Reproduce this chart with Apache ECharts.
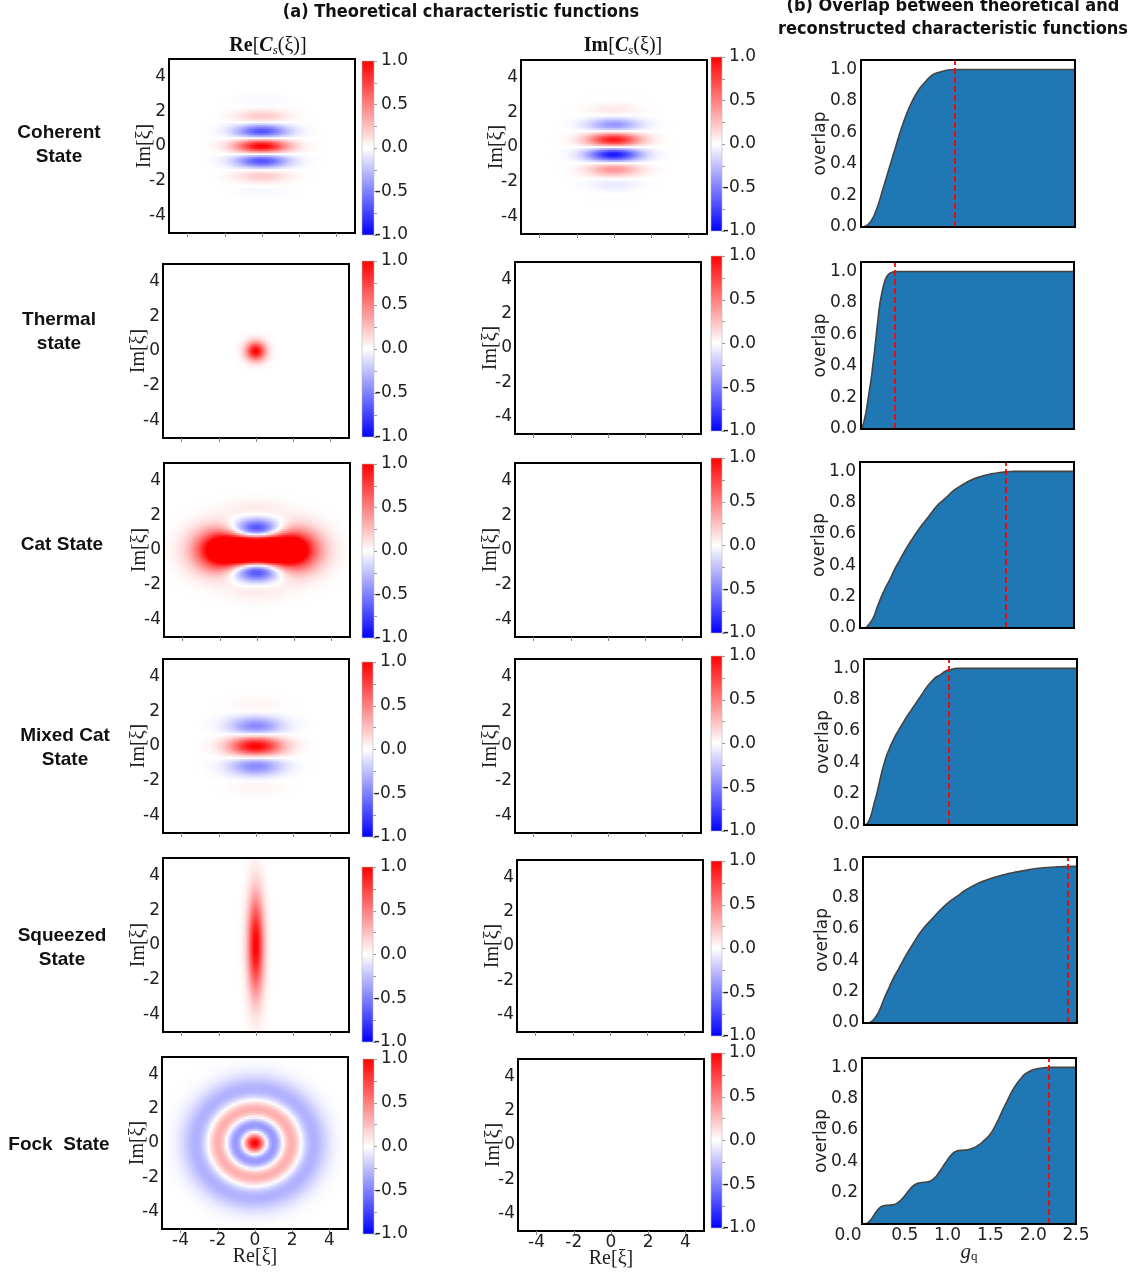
<!DOCTYPE html>
<html><head><meta charset="utf-8">
<script src="https://cdn.jsdelivr.net/npm/echarts@6/dist/echarts.min.js"></script>
<style>html,body{margin:0;padding:0;background:#fff}#c{width:1137px;height:1274px}</style>
</head><body><div id="c"></div>
<script>
// ================= DATA =================
const stateNames = ['Coherent\nState', 'Thermal\nstate', 'Cat State', 'Mixed Cat\nState', 'Squeezed\nState', 'Fock  State'];
const axisTicks = [-4, -2, 0, 2, 4];
const colorbarTicks = [-1.0, -0.5, 0.0, 0.5, 1.0];
const overlapTicks = [0.0, 0.2, 0.4, 0.6, 0.8, 1.0];
const gqTicks = [0.0, 0.5, 1.0, 1.5, 2.0, 2.5];
const thresholds = [1.09, 0.40, 1.70, 1.00, 2.39, 2.18];   // red dashed g_q per state

// characteristic-function parameters
const coherentK = [3.4];                    // stripe wavenumber along Im[xi]
const thermalRate = [3.5];                  // Gaussian rate of the thermal peak
const catParams = [2.37, 0.64, 1.65, 2.17, 1.1, 0.85]; // amplitude, side weight, side offset, stripe wavenumber, side widths (Re, Im)
const mixedCatK = [2.33];                   // stripe wavenumber
const squeezedSigma = [0.3, 2.0];           // widths along Re, Im
const fockN = [3];                          // photon number

// overlap curves [g_q, overlap]
const overlapCoherent = [[0,0],[0.05,0.005],[0.1,0.025],[0.15,0.07],[0.2,0.14],[0.25,0.23],[0.3,0.32],[0.35,0.41],[0.4,0.5],[0.45,0.59],[0.5,0.67],[0.55,0.74],[0.6,0.8],[0.65,0.85],[0.7,0.89],[0.75,0.92],[0.8,0.95],[0.85,0.97],[0.9,0.98],[1.0,0.995],[1.1,1.0],[1.5,1.0],[2.0,1.0],[2.5,1.0]];
const overlapThermal = [[0,0],[0.02,0.02],[0.04,0.06],[0.06,0.11],[0.08,0.18],[0.1,0.25],[0.12,0.32],[0.14,0.41],[0.16,0.5],[0.18,0.6],[0.2,0.7],[0.22,0.79],[0.24,0.85],[0.26,0.9],[0.28,0.94],[0.3,0.965],[0.33,0.985],[0.37,0.997],[0.42,1.0],[1.0,1.0],[2.5,1.0]];
const overlapCat = [[0,0],[0.05,0.0],[0.1,0.02],[0.15,0.06],[0.2,0.13],[0.25,0.2],[0.3,0.26],[0.35,0.31],[0.4,0.37],[0.45,0.42],[0.5,0.47],[0.6,0.56],[0.7,0.64],[0.8,0.71],[0.9,0.78],[1.0,0.83],[1.1,0.88],[1.2,0.915],[1.3,0.945],[1.4,0.965],[1.5,0.98],[1.6,0.99],[1.7,0.997],[1.8,1.0],[2.5,1.0]];
const overlapMixedCat = [[0,0],[0.03,0.005],[0.06,0.03],[0.09,0.075],[0.12,0.14],[0.15,0.2],[0.18,0.27],[0.21,0.34],[0.24,0.4],[0.27,0.45],[0.3,0.49],[0.35,0.55],[0.4,0.6],[0.45,0.645],[0.5,0.69],[0.55,0.73],[0.6,0.77],[0.65,0.81],[0.7,0.85],[0.75,0.89],[0.8,0.92],[0.85,0.945],[0.9,0.96],[0.95,0.98],[1.0,0.99],[1.1,1.0],[2.5,1.0]];
const overlapSqueezed = [[0,0],[0.05,0.0],[0.1,0.01],[0.15,0.04],[0.2,0.09],[0.25,0.16],[0.3,0.22],[0.35,0.28],[0.4,0.33],[0.45,0.38],[0.5,0.43],[0.6,0.52],[0.7,0.6],[0.8,0.66],[0.9,0.72],[1.0,0.77],[1.1,0.81],[1.2,0.85],[1.3,0.88],[1.4,0.905],[1.5,0.925],[1.6,0.94],[1.7,0.955],[1.8,0.965],[1.9,0.975],[2.0,0.985],[2.2,0.995],[2.5,1.0]];
const overlapFock = [[0,0],[0.05,0.003],[0.1,0.025],[0.15,0.065],[0.2,0.1],[0.25,0.117],[0.3,0.12],[0.35,0.122],[0.4,0.13],[0.45,0.15],[0.5,0.18],[0.55,0.215],[0.6,0.245],[0.65,0.26],[0.7,0.265],[0.75,0.268],[0.8,0.275],[0.85,0.295],[0.9,0.33],[0.95,0.37],[1.0,0.41],[1.05,0.445],[1.1,0.465],[1.15,0.47],[1.2,0.472],[1.25,0.476],[1.3,0.485],[1.35,0.5],[1.4,0.52],[1.45,0.545],[1.5,0.575],[1.55,0.62],[1.6,0.675],[1.65,0.735],[1.7,0.79],[1.75,0.845],[1.8,0.89],[1.85,0.925],[1.9,0.955],[1.95,0.972],[2.0,0.985],[2.1,0.996],[2.2,1.0],[2.5,1.0]];
const overlapSeries = [overlapCoherent, overlapThermal, overlapCat, overlapMixedCat, overlapSqueezed, overlapFock];

// ================= LAYOUT =================
const reRects = [[169,59,186,174],[163,264,186,174],[164,463,186,174],[163,659,186,174],[163,858,186,174],[162,1057,186,172]];
const imRects = [[521,60,186,174],[515,262,186,172],[515,463,186,174],[515,659,186,174],[517,860,186,172],[518,1059,186,172]];
const reBars  = [[362,61,12,174],[362,261,12,176],[362,464,12,174],[362,662,11,175],[362,867,11,175],[363,1059,11,175]];
const imBars  = [[711,57,11,174],[711,256,11,175],[711,458,11,175],[711,656,11,175],[711,861,11,175],[711,1053,11,175]];
const ovRects = [[861,60,214,167],[861,262,213,167],[860,462,214,166],[864,659,213,166],[863,857,214,166],[862,1058,214,166]];
const rowLabelPos = [[59,145],[59,332],[62,545],[65,748],[62,948],[59,1145]];

const TICK_FONT = 'DejaVu Sans';
const SERIF = 'Liberation Serif';

// ================= FIELD EVALUATION =================
function laguerre(n, u) {
  if (n === 0) return 1;
  let l0 = 1, l1 = 1 - u;
  for (let k = 1; k < n; k++) {
    const l2 = ((2 * k + 1 - u) * l1 - k * l0) / (k + 1);
    l0 = l1; l1 = l2;
  }
  return l1;
}
function fieldValue(state, part, x, y) {
  const r2 = x * x + y * y;
  switch (state) {
    case 0: {
      const env = Math.exp(-r2 / 2);
      return part === 're' ? env * Math.cos(coherentK[0] * y) : env * Math.sin(coherentK[0] * y);
    }
    case 1: return part === 're' ? Math.exp(-thermalRate[0] * r2) : 0;
    case 2: {
      if (part !== 're') return 0;
      const [A, B, d, k, sx, sy] = catParams;
      const side = (cx) => Math.exp(-((x - cx) * (x - cx)) / (2 * sx * sx) - (y * y) / (2 * sy * sy));
      return A * (Math.exp(-r2 / 2) * Math.cos(k * y) + B * (side(d) + side(-d)));
    }
    case 3: return part === 're' ? Math.exp(-r2 / 2) * Math.cos(mixedCatK[0] * y) : 0;
    case 4: {
      if (part !== 're') return 0;
      const [sx, sy] = squeezedSigma;
      return Math.exp(-x * x / (2 * sx * sx) - y * y / (2 * sy * sy));
    }
    case 5: return part === 're' ? Math.exp(-r2 / 2) * laguerre(fockN[0], r2) : 0;
  }
  return 0;
}

// ================= OPTION BUILD =================
const option = { animation: false, grid: [], xAxis: [], yAxis: [], series: [], visualMap: [], graphic: [] };
const heatIdx = [];

function addGrid(rect, extra) {
  option.grid.push(Object.assign({ left: rect[0], top: rect[1], width: rect[2], height: rect[3], outerBoundsMode: 'none', containLabel: false }, extra || {}));
  return option.grid.length - 1;
}
function range(n) { const a = []; for (let i = 0; i < n; i++) a.push(i); return a; }

function addHeatmap(rect, state, part, isLast) {
  const g = addGrid(rect);
  const nx = Math.round(rect[2] / 2), ny = Math.round(rect[3] / 2);
  option.xAxis.push({ gridIndex: g, type: 'category', data: range(nx), show: false });
  const xi = option.xAxis.length - 1;
  option.yAxis.push({ gridIndex: g, type: 'category', data: range(ny), show: false });
  const yi = option.yAxis.length - 1;
  const data = [];
  for (let i = 0; i < nx; i++) {
    const x = -5 + (i + 0.5) * 10 / nx;
    for (let j = 0; j < ny; j++) {
      const y = -5 + (j + 0.5) * 10 / ny;
      let v = fieldValue(state, part, x, y);
      v = Math.max(-1, Math.min(1, v));
      data.push([i, j, v]);
    }
  }
  option.series.push({ type: 'heatmap', xAxisIndex: xi, yAxisIndex: yi, data: data, progressive: 0, silent: true, z: 2 });
  heatIdx.push(option.series.length - 1);

  // overlay frame with value axes
  const go = addGrid(rect, { show: true, borderColor: '#000', borderWidth: 2, backgroundColor: 'rgba(0,0,0,0)', z: 10 });
  option.xAxis.push({
    gridIndex: go, type: 'value', min: -5, max: 5, z: 10, position: 'bottom',
    axisLine: { show: false, onZero: false }, splitLine: { show: false },
    axisTick: { show: true, customValues: axisTicks, length: 4, lineStyle: { color: '#888', width: 1 } },
    axisLabel: { show: isLast, customValues: axisTicks, fontFamily: TICK_FONT, fontSize: 17, color: '#222', margin: 3 },
    name: isLast ? 'Re[ξ]' : '', nameLocation: 'middle', nameGap: 18, nameMoveOverlap: false,
    nameTextStyle: { fontFamily: SERIF, fontSize: 20, color: '#222' }
  });
  option.yAxis.push({
    gridIndex: go, type: 'value', min: -5, max: 5, z: 10, position: 'left',
    axisLine: { show: false, onZero: false }, splitLine: { show: false }, axisTick: { show: false },
    axisLabel: { customValues: axisTicks, fontFamily: TICK_FONT, fontSize: 17, color: '#222', margin: 3 },
    name: 'Im[ξ]', nameLocation: 'middle', nameGap: 14, nameMoveOverlap: false,
    nameTextStyle: { fontFamily: SERIF, fontSize: 20, color: '#222' }
  });
}

function addColorbar(rect) {
  const g = addGrid(rect);
  option.xAxis.push({ gridIndex: g, type: 'category', data: ['c'], show: false });
  const xi = option.xAxis.length - 1;
  option.yAxis.push({
    gridIndex: g, type: 'value', min: -1, max: 1, interval: 0.5, position: 'right',
    axisLine: { show: false, onZero: false }, splitLine: { show: false },
    axisTick: { show: true, length: 3, lineStyle: { color: '#999' } },
    minorTick: { show: true, splitNumber: 2, length: 3, lineStyle: { color: '#999' } },
    axisLabel: { customValues: colorbarTicks, formatter: v => v.toFixed(1), fontFamily: TICK_FONT, fontSize: 17, color: '#222', margin: 34, align: 'right' }
  });
  const yi = option.yAxis.length - 1;
  option.series.push({
    type: 'custom', xAxisIndex: xi, yAxisIndex: yi, silent: true,
    data: [[0, -1, 1]], encode: { x: 0, y: [1, 2] },
    renderItem: function (params, api) {
      const top = api.coord([0, api.value(2)]);
      const bot = api.coord([0, api.value(1)]);
      const w = api.size([1, 0])[0];
      return {
        type: 'rect',
        shape: { x: top[0] - w / 2, y: top[1], width: w, height: bot[1] - top[1] },
        style: {
          fill: new echarts.graphic.LinearGradient(0, 0, 0, 1, [
            { offset: 0, color: '#ff0000' }, { offset: 0.5, color: '#ffffff' }, { offset: 1, color: '#0000ff' }]),
          stroke: '#bbb', lineWidth: 0.6
        }
      };
    }
  });
}

function addOverlap(rect, row, isLast) {
  const g = addGrid(rect, { show: true, borderColor: '#000', borderWidth: 2, backgroundColor: 'rgba(0,0,0,0)', z: 10 });
  option.xAxis.push({
    gridIndex: g, type: 'value', min: 0, max: 2.5, interval: 0.5, z: 10, position: 'bottom',
    axisLine: { show: false, onZero: false }, axisTick: { show: false }, splitLine: { show: false },
    axisLabel: {
      show: isLast, customValues: gqTicks, fontFamily: TICK_FONT, fontSize: 17, color: '#222', margin: 3,
      formatter: v => (v === 0 ? '{l|0.0}' : v.toFixed(1)),
      rich: { l: { fontFamily: TICK_FONT, fontSize: 17, color: '#222', padding: [0, 28, 0, 0] } }
    },
    name: isLast ? '{g|g}{q|q}' : '', nameLocation: 'middle', nameGap: 18, nameMoveOverlap: false,
    nameTextStyle: {
      rich: {
        g: { fontFamily: SERIF, fontStyle: 'italic', fontSize: 21, color: '#222' },
        q: { fontFamily: SERIF, fontSize: 13, color: '#222', padding: [8, 0, 0, 0] }
      }
    }
  });
  const xi = option.xAxis.length - 1;
  option.yAxis.push({
    gridIndex: g, type: 'value', min: 0, max: 1.06, z: 10, position: 'left',
    axisLine: { show: false, onZero: false }, axisTick: { show: false }, splitLine: { show: false },
    axisLabel: { customValues: isLast ? overlapTicks.slice(1) : overlapTicks, formatter: v => v.toFixed(1), fontFamily: TICK_FONT, fontSize: 17, color: '#222', margin: 4 },
    name: 'overlap', nameLocation: 'middle', nameGap: 32, nameMoveOverlap: false,
    nameTextStyle: { fontFamily: TICK_FONT, fontSize: 17, color: '#222' }
  });
  const yi = option.yAxis.length - 1;
  option.series.push({
    type: 'line', xAxisIndex: xi, yAxisIndex: yi, data: overlapSeries[row],
    smooth: 0.5, showSymbol: false, silent: true, z: 2,
    lineStyle: { color: '#444', width: 1.6 },
    areaStyle: { color: '#1f77b4', opacity: 1 },
    markLine: {
      silent: true, symbol: 'none', label: { show: false },
      lineStyle: { color: '#ff0000', type: [6, 3], width: 1.8 },
      data: [{ xAxis: thresholds[row] }]
    }
  });
}

for (let r = 0; r < 6; r++) {
  const last = r === 5;
  addHeatmap(reRects[r], r, 're', last);
  addColorbar(reBars[r]);
  addHeatmap(imRects[r], r, 'im', last);
  addColorbar(imBars[r]);
  addOverlap(ovRects[r], r, last);
  option.graphic.push({
    type: 'text', x: rowLabelPos[r][0], y: rowLabelPos[r][1], silent: true,
    style: { text: stateNames[r], fontFamily: 'Liberation Sans', fontWeight: 'bold', fontSize: 19, lineHeight: 24, fill: '#111', align: 'center', verticalAlign: 'middle' }
  });
}

option.visualMap.push({
  type: 'continuous', show: false, min: -1, max: 1, dimension: 2, seriesIndex: heatIdx,
  inRange: { color: ['#0000ff', '#ffffff', '#ff0000'] }
});

const headFont = '"Liberation Sans Narrow", "DejaVu Sans Condensed", "Roboto Condensed", sans-serif';
option.graphic.push(
  { type: 'text', x: 461, y: 12, silent: true, style: { text: '(a) Theoretical characteristic functions', fontFamily: headFont, fontWeight: 'bold', fontSize: 18, fill: '#111', align: 'center', verticalAlign: 'middle' } },
  { type: 'text', x: 953, y: 6, silent: true, style: { text: '(b) Overlap between theoretical and', fontFamily: headFont, fontWeight: 'bold', fontSize: 18, fill: '#111', align: 'center', verticalAlign: 'middle' } },
  { type: 'text', x: 953, y: 29, silent: true, style: { text: 'reconstructed characteristic functions', fontFamily: headFont, fontWeight: 'bold', fontSize: 18, fill: '#111', align: 'center', verticalAlign: 'middle' } }
);
const csRich = {
  b: { fontFamily: SERIF, fontWeight: 'bold', fontSize: 20, fill: '#111', color: '#111' },
  n: { fontFamily: SERIF, fontSize: 20, fill: '#111', color: '#111' },
  i: { fontFamily: SERIF, fontStyle: 'italic', fontWeight: 'bold', fontSize: 20, fill: '#111', color: '#111' },
  s: { fontFamily: SERIF, fontStyle: 'italic', fontSize: 13, fill: '#111', color: '#111', padding: [9, 0, 0, 0] }
};
option.graphic.push(
  { type: 'text', x: 268, y: 46, silent: true, style: { text: '{b|Re}{n|[}{i|C}{s|s}{n|(ξ)]}', rich: csRich, align: 'center', verticalAlign: 'middle' } },
  { type: 'text', x: 623, y: 46, silent: true, style: { text: '{b|Im}{n|[}{i|C}{s|s}{n|(ξ)]}', rich: csRich, align: 'center', verticalAlign: 'middle' } }
);

const chart = echarts.init(document.getElementById('c'), null, { renderer: 'canvas' });
chart.setOption(option);
</script>
</body></html>
